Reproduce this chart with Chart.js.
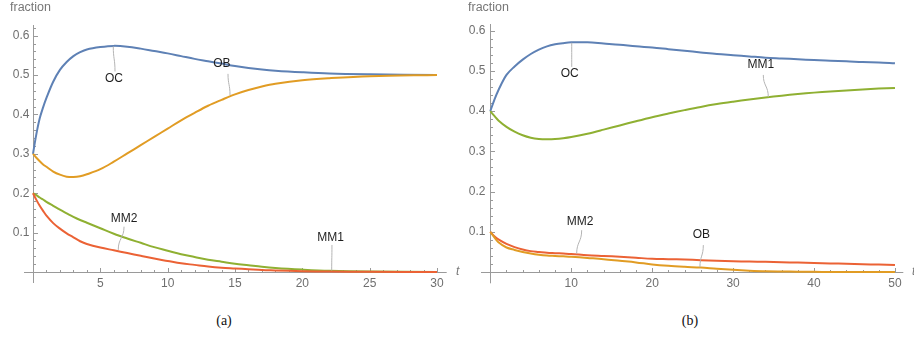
<!DOCTYPE html>
<html><head><meta charset="utf-8">
<script src="https://cdn.jsdelivr.net/npm/chart.js@4.4.0/dist/chart.umd.min.js"></script>
<style>
html,body{margin:0;padding:0;background:#fff;}
body{width:914px;height:341px;overflow:hidden;position:relative;}
canvas{position:absolute;top:0;}
#ca{left:0;}
#cb{left:460px;}
.cap{position:absolute;top:313px;font-family:"Liberation Serif","Times New Roman",serif;font-weight:normal;font-size:14px;color:#111;transform:translateX(-50%);}
</style></head>
<body>
<canvas id="ca" width="460" height="300"></canvas>
<canvas id="cb" width="454" height="300"></canvas>
<div class="cap" style="left:224px">(a)</div>
<div class="cap" style="left:690px">(b)</div>
<script>
// ---------- Panel (a) data ----------
const tA   = [0,0.25,0.5,0.75,1,1.5,2,2.5,3,3.5,4,5,6,7,8,9,10,11,12,13,14,15,16,17,18,20,22,25,30];
const ocA  = [0.3,0.35,0.39,0.418,0.442,0.483,0.513,0.533,0.548,0.558,0.565,0.571,0.574,0.572,0.567,0.561,0.555,0.548,0.541,0.535,0.529,0.523,0.518,0.514,0.511,0.507,0.504,0.502,0.5];
const obA  = [0.3,0.29,0.281,0.273,0.267,0.255,0.247,0.242,0.241,0.243,0.248,0.261,0.28,0.301,0.322,0.343,0.364,0.385,0.404,0.422,0.437,0.451,0.462,0.471,0.478,0.487,0.492,0.497,0.5];
const mm1A = [0.2,0.195,0.189,0.184,0.178,0.168,0.158,0.149,0.14,0.132,0.125,0.111,0.097,0.085,0.074,0.063,0.054,0.045,0.038,0.031,0.026,0.021,0.017,0.013,0.01,0.006,0.003,0.001,0];
const mm2A = [0.2,0.183,0.168,0.155,0.143,0.124,0.11,0.098,0.088,0.078,0.071,0.062,0.055,0.048,0.041,0.034,0.028,0.022,0.018,0.014,0.011,0.009,0.007,0.005,0.004,0.002,0.001,0.0003,0];
// ---------- Panel (b) data ----------
const tB   = [0,0.5,1,2,3,4,5,6,7,8,9,10,12,14,16,18,20,22,24,26,28,30,32,34,36,38,40,42,44,46,48,50];
const ocB  = [0.4,0.428,0.452,0.49,0.511,0.528,0.542,0.553,0.561,0.566,0.569,0.571,0.571,0.568,0.565,0.561,0.558,0.554,0.55,0.546,0.542,0.539,0.536,0.533,0.531,0.529,0.527,0.525,0.524,0.522,0.521,0.519];
const mm1B = [0.4,0.388,0.377,0.361,0.349,0.34,0.334,0.331,0.3302,0.3307,0.3325,0.3355,0.344,0.354,0.3645,0.375,0.385,0.394,0.4025,0.4105,0.4175,0.4235,0.429,0.434,0.4385,0.4425,0.446,0.449,0.4515,0.454,0.456,0.4575];
const mm2B = [0.1,0.089,0.081,0.07,0.062,0.056,0.052,0.05,0.048,0.047,0.046,0.045,0.042,0.04,0.038,0.0355,0.033,0.032,0.031,0.0295,0.028,0.027,0.026,0.0255,0.0245,0.0235,0.0225,0.0215,0.0205,0.0195,0.0185,0.0175];
const obB  = [0.1,0.086,0.074,0.061,0.055,0.05,0.046,0.043,0.041,0.04,0.039,0.038,0.035,0.032,0.028,0.024,0.019,0.0155,0.013,0.011,0.008,0.0055,0.0035,0.002,0.0013,0.0008,0.0005,0.0003,0.0002,0.0001,0.0001,0];
// ---------- Tick labels ----------
const xTicksA = [5,10,15,20,25,30];
const xTicksB = [10,20,30,40,50];
const yTicks  = [0.1,0.2,0.3,0.4,0.5,0.6];
const yTickLabels = ['0.1','0.2','0.3','0.4','0.5','0.6'];

const COL = {OC:'#5E81B5', OB:'#E19C24', MM1:'#8FB032', MM2:'#EB6235'};
const AXIS = '#9a9a9a', TICKTXT = '#6f6f6f';

function pts(t, v){ return t.map((x,i)=>({x:x, y:v[i]})); }
function ds(label, t, v, order){
  return {label, data: pts(t,v), borderColor: COL[label], borderWidth: 2, pointRadius: 0,
          fill:false, tension: 0.35, order};
}

function makePlugin(cfg){
  const crisp = v => Math.round(v) + 0.5;
  return {
    id: 'mathAxes',
    beforeDatasetsDraw(chart){
      const {ctx, scales:{x, y}} = chart;
      const x0 = crisp(x.getPixelForValue(0)), y0 = crisp(y.getPixelForValue(0));
      ctx.save();
      ctx.strokeStyle = AXIS; ctx.lineWidth = 1;
      ctx.beginPath();
      ctx.moveTo(x.left, y0); ctx.lineTo(x.right, y0);
      ctx.moveTo(x0, y.top); ctx.lineTo(x0, y.bottom);
      for (let k = 1; k * cfg.xMinor <= x.max + 1e-9; k++){
        const v = k * cfg.xMinor;
        const major = cfg.xTicks.some(m => Math.abs(m - v) < 1e-9);
        const px = crisp(x.getPixelForValue(v));
        ctx.moveTo(px, y0); ctx.lineTo(px, y0 - (major ? 4.5 : 2.5));
      }
      for (let k = 1; k * 0.02 <= y.max + 1e-9; k++){
        const v = k * 0.02;
        const major = yTicks.some(m => Math.abs(m - v) < 1e-9);
        const py = crisp(y.getPixelForValue(v));
        ctx.moveTo(x0, py); ctx.lineTo(x0 + (major ? 4.5 : 2.5), py);
      }
      ctx.stroke();
      ctx.fillStyle = TICKTXT;
      ctx.font = '12px "Liberation Sans", Arial, sans-serif';
      ctx.textAlign = 'center'; ctx.textBaseline = 'middle';
      cfg.xTicks.forEach(v => ctx.fillText(String(v), x.getPixelForValue(v), y0 + 11.5));
      ctx.textAlign = 'right';
      yTicks.forEach((v,i) => ctx.fillText(yTickLabels[i], x0 - cfg.yLabGap, y.getPixelForValue(v)));
      ctx.textAlign = 'left';
      ctx.font = '12.5px "Liberation Sans", Arial, sans-serif';
      ctx.fillStyle = '#777';
      ctx.fillText('fraction', cfg.fracX, 8);
      ctx.font = 'italic 12px "Liberation Sans", Arial, sans-serif';
      ctx.fillText('t', cfg.tX, y0 - 1);
      ctx.restore();
    },
    afterDatasetsDraw(chart){
      const {ctx, scales:{x, y}} = chart;
      ctx.save();
      cfg.callouts.forEach(c => {
        const ax = x.getPixelForValue(c.from[0]), ay = y.getPixelForValue(c.from[1]);
        const bx = x.getPixelForValue(c.to[0]),   by = y.getPixelForValue(c.to[1]);
        ctx.strokeStyle = '#b4b4b4'; ctx.lineWidth = 1;
        ctx.beginPath();
        ctx.moveTo(ax, ay);
        ctx.bezierCurveTo(ax, ay + (by-ay)*0.5, bx, ay + (by-ay)*0.5, bx, by);
        ctx.stroke();
        ctx.fillStyle = '#1e1e1e';
        ctx.font = '12px "Liberation Sans", Arial, sans-serif';
        ctx.textAlign = 'center'; ctx.textBaseline = 'middle';
        ctx.fillText(c.text, x.getPixelForValue(c.at[0]), y.getPixelForValue(c.at[1]));
      });
      ctx.restore();
    }
  };
}

function makeChart(id, datasets, xr, yr, pad, cfg){
  return new Chart(document.getElementById(id), {
    type: 'line',
    data: { datasets },
    options: {
      responsive: false, animation: false, devicePixelRatio: 1,
      layout: { padding: pad },
      plugins: { legend: {display:false}, tooltip: {enabled:false} },
      scales: {
        x: { type:'linear', min: xr[0], max: xr[1], display: false },
        y: { type:'linear', min: yr[0], max: yr[1], display: false }
      }
    },
    plugins: [makePlugin(cfg)]
  });
}

makeChart('ca',
  [ds('MM2', tA, mm2A, 1), ds('MM1', tA, mm1A, 2), ds('OB', tA, obA, 3), ds('OC', tA, ocA, 4)],
  [-0.668, 30.72], [-0.028, 0.627],
  {left:24, right:13.3, top:25, bottom:17},
  { xTicks: xTicksA, xMinor: 1, yLabGap: 4, fracX: 10, tX: 456,
    callouts: [
      {text:'OC',  at:[6.01,0.490],  from:[6.09,0.509],  to:[5.96,0.573]},
      {text:'OB',  at:[14.03,0.530], from:[14.48,0.503], to:[14.63,0.449]},
      {text:'MM2', at:[6.76,0.136],  from:[6.76,0.115],  to:[6.33,0.056]},
      {text:'MM1', at:[22.1,0.088],  from:[22.2,0.0686], to:[22.18,0.004]}
    ]});

makeChart('cb',
  [ds('OB', tB, obB, 1), ds('MM2', tB, mm2B, 2), ds('MM1', tB, mm1B, 3), ds('OC', tB, ocB, 4)],
  [-1.15, 51.03], [-0.028, 0.6166],
  {left:21, right:10.7, top:24, bottom:16.7},
  { xTicks: xTicksB, xMinor: 2, yLabGap: 5, fracX: 8, tX: 452,
    callouts: [
      {text:'OC',  at:[9.81,0.494],  from:[10.06,0.510], to:[10.06,0.570]},
      {text:'MM1', at:[33.42,0.516], from:[33.73,0.490], to:[34.35,0.435]},
      {text:'MM2', at:[11.08,0.125], from:[11.29,0.104], to:[10.67,0.0455]},
      {text:'OB',  at:[26.07,0.094], from:[26.32,0.067], to:[25.9,0.012]}
    ]});
</script>
</body></html>
